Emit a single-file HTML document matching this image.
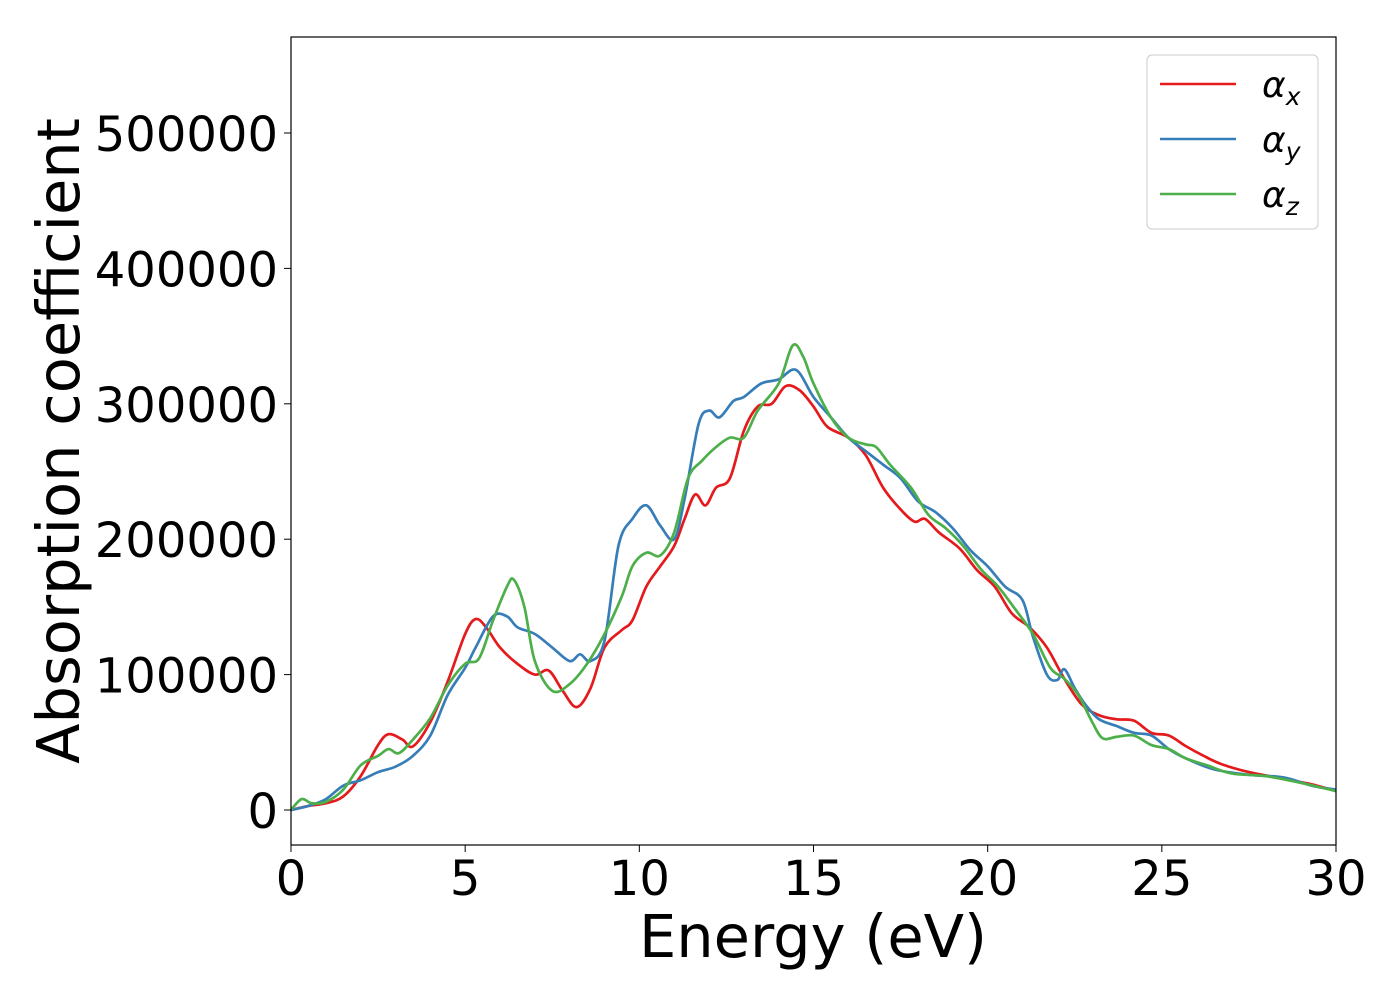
<!DOCTYPE html>
<html><head><meta charset="utf-8"><style>
body{margin:0;background:#fff;font-family:"DejaVu Sans",sans-serif;}
</style></head><body>
<svg id="chart" width="1400" height="1000" xmlns="http://www.w3.org/2000/svg" font-family="DejaVu Sans, Liberation Sans, sans-serif">
<rect x="0" y="0" width="1400" height="1000" fill="#fff"/>
<g id="plot"></g>
<g id="xticks"></g>
<g id="yticks"></g>
<rect x="291" y="37" width="1045" height="808" fill="none" stroke="#000" stroke-width="1.2"/>
<text x="813" y="957" font-size="59" text-anchor="middle">Energy (eV)</text>
<text transform="translate(79,441) rotate(-90)" font-size="59" text-anchor="middle">Absorption coefficient</text>
<g>
<rect x="1147" y="55" width="171" height="174" rx="5" fill="#fff" stroke="#ccc" stroke-width="1"/>
<g><line x1="1160" y1="84" x2="1236" y2="84" stroke="#e41a1c" stroke-width="2.5"/><text x="1262" y="97" font-size="36" font-style="italic">α<tspan font-size="25" dy="8">x</tspan></text></g>
<g><line x1="1160" y1="139" x2="1236" y2="139" stroke="#377eb8" stroke-width="2.5"/><text x="1262" y="152" font-size="36" font-style="italic">α<tspan font-size="25" dy="8">y</tspan></text></g>
<g><line x1="1160" y1="194" x2="1236" y2="194" stroke="#4daf4a" stroke-width="2.5"/><text x="1262" y="207" font-size="36" font-style="italic">α<tspan font-size="25" dy="8">z</tspan></text></g>
</g>
</svg>
<script>
const xTicks=[0,5,10,15,20,25,30];
const yTicks=[0,100000,200000,300000,400000,500000];
const redE=[0,0.5,1,1.5,2,2.5,2.8,3.2,3.5,4,4.5,5,5.3,5.6,6,6.5,7,7.4,7.8,8.2,8.6,9,9.5,9.8,10.2,10.6,11,11.3,11.6,11.9,12.2,12.6,13,13.4,13.8,14.2,14.6,15,15.4,16,16.5,17,17.5,17.9,18.2,18.6,19.2,19.7,20.2,20.7,21.2,21.7,22.2,22.7,23.2,23.7,24.2,24.7,25.2,25.7,26.2,26.7,27.5,28.5,29.3,30];
const redV=[0,3000,5000,10000,25000,48000,56000,52000,47000,65000,95000,130000,141000,135000,120000,108000,100000,103000,88000,76000,90000,120000,133000,140000,165000,180000,195000,215000,233000,225000,238000,245000,280000,298000,300000,313000,310000,298000,283000,275000,262000,238000,222000,213000,215000,205000,193000,177000,165000,145000,135000,120000,97000,78000,70000,67000,66000,57000,55000,47000,40000,34000,28000,23000,19000,14000];
const blueE=[0,0.5,1,1.5,2,2.5,3,3.5,4,4.5,5,5.3,5.8,6.2,6.5,7,7.5,8,8.3,8.6,9,9.4,9.8,10.2,10.6,11,11.3,11.7,12,12.3,12.7,13,13.5,14,14.5,15,15.5,16,16.5,17,17.5,18,18.5,19,19.5,20,20.5,21,21.3,21.7,22,22.2,22.5,22.8,23.2,23.7,24.2,24.7,25.2,25.7,26.5,27.5,28.5,29.3,30];
const blueV=[0,3000,8000,18000,22000,28000,32000,40000,55000,85000,105000,120000,143000,143000,135000,130000,120000,110000,115000,110000,125000,195000,215000,225000,210000,200000,230000,285000,295000,290000,302000,305000,315000,318000,325000,305000,290000,275000,265000,255000,245000,228000,220000,208000,192000,180000,165000,155000,128000,100000,96000,104000,90000,78000,67000,62000,57000,55000,45000,38000,30000,26000,24000,18000,15000];
const greenE=[0,0.3,0.6,1,1.5,2,2.5,2.8,3.1,3.5,4,4.5,5,5.4,5.8,6.2,6.4,6.7,7,7.5,8,8.5,9,9.5,9.8,10.2,10.6,11,11.4,11.8,12.2,12.6,13,13.4,14,14.4,14.7,15,15.5,16,16.5,16.8,17.2,17.8,18.3,18.8,19.3,19.8,20.3,20.8,21.3,21.8,22.2,22.6,23,23.3,23.7,24.2,24.7,25.2,25.7,26.3,27,28,29,30];
const greenV=[0,8000,5000,6000,15000,33000,40000,45000,42000,52000,68000,92000,108000,112000,140000,165000,170000,150000,110000,88000,93000,108000,130000,158000,180000,190000,188000,205000,245000,258000,268000,275000,275000,295000,315000,343000,335000,315000,290000,275000,270000,268000,255000,238000,218000,208000,195000,178000,165000,148000,130000,105000,97000,85000,65000,53000,54000,55000,48000,45000,38000,33000,27000,25000,20000,14000];
const X=e=>291+e*(1045/30);
const Y=v=>810-v*(677/500000);
const NS="http://www.w3.org/2000/svg";
const plot=document.getElementById('plot');
function smooth(E,V){
  const p=E.map((e,i)=>[X(e),Y(V[i])]);
  let d=`M${p[0][0]},${p[0][1]}`;
  for(let i=0;i<p.length-1;i++){
    const p0=p[Math.max(0,i-1)],p1=p[i],p2=p[i+1],p3=p[Math.min(p.length-1,i+2)];
    const c1=[p1[0]+(p2[0]-p0[0])/6,p1[1]+(p2[1]-p0[1])/6];
    const c2=[p2[0]-(p3[0]-p1[0])/6,p2[1]-(p3[1]-p1[1])/6];
    d+=` C${c1[0]},${c1[1]} ${c2[0]},${c2[1]} ${p2[0]},${p2[1]}`;
  }
  return d;
}
function addLine(E,V,c,name){
  const el=document.createElementNS(NS,'path');
  el.setAttribute('d',smooth(E,V));
  el.setAttribute('fill','none');el.setAttribute('stroke',c);el.setAttribute('stroke-width','2.7');
  
  
  plot.appendChild(el);
}
addLine(redE,redV,'#e41a1c','series-alpha-x');
addLine(blueE,blueV,'#377eb8','series-alpha-y');
addLine(greenE,greenV,'#4daf4a','series-alpha-z');
const xg=document.getElementById('xticks');
xTicks.forEach(t=>{
  const l=document.createElementNS(NS,'line');
  l.setAttribute('x1',X(t));l.setAttribute('x2',X(t));l.setAttribute('y1',845);l.setAttribute('y2',852);l.setAttribute('stroke','#000');
  
  
  xg.appendChild(l);
  const tx=document.createElementNS(NS,'text');
  tx.setAttribute('x',X(t));tx.setAttribute('y',895);tx.setAttribute('font-size','48');tx.setAttribute('text-anchor','middle');
  tx.textContent=t;
  
  
  xg.appendChild(tx);
});
const yg=document.getElementById('yticks');
yTicks.forEach(t=>{
  const l=document.createElementNS(NS,'line');
  l.setAttribute('x1',284);l.setAttribute('x2',291);l.setAttribute('y1',Y(t));l.setAttribute('y2',Y(t));l.setAttribute('stroke','#000');
  
  
  yg.appendChild(l);
  const tx=document.createElementNS(NS,'text');
  tx.setAttribute('x',278);tx.setAttribute('y',Y(t)+18);tx.setAttribute('font-size','48');tx.setAttribute('text-anchor','end');
  tx.textContent=t;
  
  
  yg.appendChild(tx);
});
</script>
</body></html>
